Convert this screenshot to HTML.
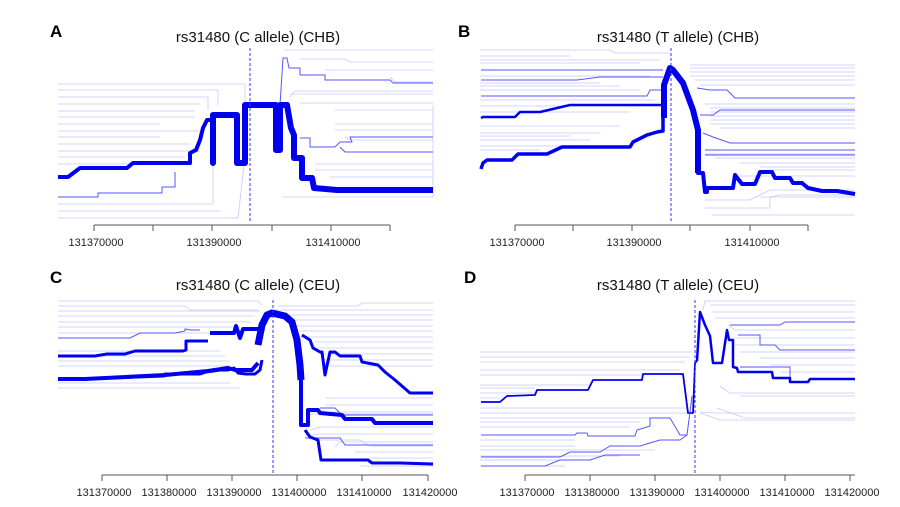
<!DOCTYPE html>
<html><head><style>
body{margin:0;background:#fff;}
svg{display:block;font-family:"Liberation Sans",sans-serif;}
.f{stroke:#c8c8ff;stroke-width:0.8;fill:none}
.m{stroke:#5555ff;stroke-width:1;fill:none}
.t{stroke:#0000ee;fill:none;stroke-linejoin:round}
.ax{stroke:#555;stroke-width:1;fill:none}
.d{stroke:#3333ff;stroke-width:1;stroke-dasharray:3,2}
.tl{font-size:11px;fill:#222;text-anchor:middle}
.ti{font-size:15px;fill:#111;text-anchor:middle}
.lb{font-size:17px;font-weight:bold;fill:#000}
</style></head><body>
<svg width="900" height="507" viewBox="0 0 900 507">
<!-- Panel A -->
<text class="lb" x="50" y="37">A</text>
<text class="ti" x="258" y="42">rs31480 (C allele) (CHB)</text>
<g class="f">
<path d="M58,84H245V105M58,90H218V105M58,97H208V110M58,104H200M58,111H195M58,117H195M58,124H160M58,131H200M58,137H160M58,144H190M58,151H200M58,157H185M58,164H175M58,204H213V160M58,211H220M58,218H238L244,165"/>
<path d="M284,50H433M300,59H345L350,62H433M325,70H433M390,77L395,82H433M290,94H433M290,97L295,91H433M300,103H433M335,110H433M335,124H433M335,130H433M345,137L350,140H433M315,164H433M315,170H433M330,177H433M282,197H433V105"/>
</g>
<g class="m">
<path d="M58,197H98V193H162V187H175V172"/>
<path d="M280,105L283,58H287L289,68H300V75H325V80H390L393,83H433"/>
<path d="M300,138H310V147H335L340,142H352L350,137H433M340,147L345,152H433"/>
</g>
<path class="t" stroke-width="4" d="M58,177H68L72,174L80,168H127L133,163H190V153L196,150L200,140L203,128L207,120H213"/>
<path class="t" stroke-width="6" d="M213,118V163V115H237V163H245V105H276V150H280V105H287L291,128L294,135V158H302V178H312L314,188L337,190H433"/>
<path class="d" d="M250,48V222"/>
<path class="ax" d="M94,225H390M94,225v6M153,225v6M212,225v6M272,225v6M331,225v6M390,225v6"/>
<text class="tl" x="96" y="246">131370000</text>
<text class="tl" x="214" y="246">131390000</text>
<text class="tl" x="333" y="246">131410000</text>

<!-- Panel B -->
<text class="lb" x="458" y="37">B</text>
<text class="ti" x="678" y="42">rs31480 (T allele) (CHB)</text>
<g class="f">
<path d="M480,50H610L615,53H670M480,56H570M480,60H660M480,63H640M480,76H650M480,83H600M480,86H620M480,90H640M480,100H655M480,106H640M480,112H630M480,126H620M480,133H600M480,136H570M480,140H590M480,146H560M480,150H540"/>
<path d="M690,65H855M690,68H855M690,72H855M690,76H855M695,80H855M700,85H855M705,104H855M710,108H855M710,112H855M710,116H855M710,120H855M710,124H855M720,128H855M705,150H855M705,154H855M715,158H855M740,163H855M760,167H855M770,170H855M740,176H855M760,197H855M705,200H750L770,190H855M705,208H770V197L780,195H855M712,215H855"/>
</g>
<g class="m">
<path d="M481,80H577L600,77H663"/>
<path d="M481,70H627L643,70H663"/>
<path d="M481,96H647L650,90H663"/>
<path d="M697,88L710,90H727L735,98H855M700,115H713L720,110H855M703,133L713,137L730,143H855M705,150H855M705,155H855"/>
</g>
<path class="t" stroke-width="2.5" d="M481,118L483,117H515L520,112H540L570,105H663"/>
<path class="t" stroke-width="3.5" d="M481,169L483,163L487,160H512L518,154H547L562,147H630L633,142L647,135L657,132L663,131V100"/>
<path class="t" stroke-width="6" d="M664,118V85L670,68L673,70L683,83L693,110L698,130V173"/>
<path class="t" stroke-width="4" d="M698,160V173H703L705,192H707V188H733L735,175L742,184H755L760,172H772L775,178H790L793,183H802L808,188L822,191H837L855,194"/>
<path class="d" d="M671,48V222"/>
<path class="ax" d="M515,225H808M515,225v6M573,225v6M632,225v6M690,225v6M750,225v6M808,225v6"/>
<text class="tl" x="517" y="246">131370000</text>
<text class="tl" x="634" y="246">131390000</text>
<text class="tl" x="752" y="246">131410000</text>

<!-- Panel C -->
<text class="lb" x="50" y="283">C</text>
<text class="ti" x="258" y="290">rs31480 (C allele) (CEU)</text>
<g class="f">
<path d="M58,301H258L262,305M58,306H185L190,310H258M58,311H260M58,316H255M58,322H250M58,327H240M58,333H235M58,351H220M58,356H225M58,361H230M58,366H230M58,383H230M58,388H240"/>
<path d="M278,306H358L362,303H433M275,310H433M280,315H433M290,320H433M295,326H433M300,331H433M300,337H433M315,342H433M315,348H433M320,354H433M325,360H433M330,366H433M326,398H433M325,405H433M310,412H433M306,418L311,414H433M310,430L320,427H433M305,436L320,434H433M320,440H360L370,446H433M335,447L340,442H433M355,452H433M370,458H433M360,466H433"/>
</g>
<g class="m">
<path d="M58,338H130L140,333H175L185,331V329L190,330H200"/>
<path d="M320,408H335L342,415H433M305,438H340L345,445H433"/>
</g>
<path class="t" stroke-width="3" d="M58,356H95L107,354H125L135,351H183L186,350V341H208"/>
<path class="t" stroke-width="3" d="M58,379H85L164,376L165,374H200L206,372L220,370H228L234,368L238,373L246,374H255L260,370L262,360"/>
<path class="t" stroke-width="4" d="M58,379H85L165,375L208,371L228,368L235,370H252L258,363"/>
<path class="t" stroke-width="4" d="M210,333H234L236,326L240,338L243,329H258"/>
<path class="t" stroke-width="7" d="M258,345L262,325L267,315L272,313L285,316L292,322L297,340L300,365L301,380"/>
<path class="t" stroke-width="4" d="M301,380V425H308V410H318L320,413L342,415L345,419H372L375,423H433"/>
<path class="t" stroke-width="3" d="M302,335L310,340L313,348L320,352H322L325,375L330,352H335L340,356H360L362,362L378,365L385,372L395,380L410,393H433"/>
<path class="t" stroke-width="3" d="M305,430L310,437L318,440L321,460H368L372,463L400,463L433,464"/>
<path class="d" d="M273,300V474"/>
<path class="ax" d="M102,475H428M102,475v6M167,475v6M232,475v6M297,475v6M362,475v6M428,475v6"/>
<text class="tl" x="104" y="496">131370000</text>
<text class="tl" x="169" y="496">131380000</text>
<text class="tl" x="234" y="496">131390000</text>
<text class="tl" x="299" y="496">131400000</text>
<text class="tl" x="364" y="496">131410000</text>
<text class="tl" x="430" y="496">131420000</text>

<!-- Panel D -->
<text class="lb" x="464" y="283">D</text>
<text class="ti" x="678" y="290">rs31480 (T allele) (CEU)</text>
<g class="f">
<path d="M480,352H692M480,357H690M480,362H685M480,370H680M480,375H645M480,385H590M480,388H535M480,393H535M480,398H500M480,408H688M480,413H690M480,418H650M480,422H640M480,427H630M480,440H575M480,446H575M480,450H655M480,456H620M480,460H590M480,466H565"/>
<path d="M703,310L705,301H855M710,305H855M712,312H855M715,318H855M728,325L735,330H855M735,338H855M735,345H855M740,352H855M760,358H855M770,365H855M780,372H855M720,386L730,393H855M700,412L715,413H855M700,413L720,420H855M717,408L745,418H855M740,396H855"/>
</g>
<g class="m">
<path d="M730,325H780L785,322H855M738,335H760V345H775L780,350H855"/>
<path d="M740,367H790V378"/>
</g>
<path class="t" stroke-width="1.8" d="M481,402H500L507,396L535,395L537,390H588L593,380H642L643,374H683L688,413H693L695,363L697,361"/>
<path class="t" stroke-width="2.5" d="M697,361L700,312L705,325L710,336L713,363H722L727,330L729,340H733V367L737,368L738,372H772L773,378H790V382H808L810,379H855"/>
<path class="m" stroke-width="1.3" d="M481,435H575L577,433H587L588,436H635L637,430L650,426V418H670L680,435H687L692,396"/>
<path class="m" d="M481,457H560L570,452H600L610,446H640L660,440H680L687,435"/>
<path class="m" d="M481,466H545L560,460H590L605,455H640"/>
<path class="d" d="M695,300V474"/>
<path class="ax" d="M525,475H855M525,475v6M590,475v6M655,475v6M720,475v6M785,475v6M850,475v6"/>
<text class="tl" x="527" y="496">131370000</text>
<text class="tl" x="592" y="496">131380000</text>
<text class="tl" x="657" y="496">131390000</text>
<text class="tl" x="722" y="496">131400000</text>
<text class="tl" x="787" y="496">131410000</text>
<text class="tl" x="852" y="496">131420000</text>
</svg>
</body></html>
